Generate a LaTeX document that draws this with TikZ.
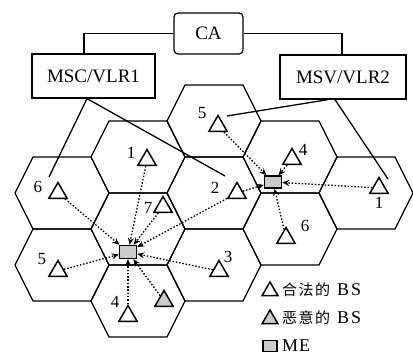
\documentclass[tikz,border=0pt]{standalone}
\usepackage{fontspec}
\setmainfont{Liberation Serif}
\newfontfamily\cjk{Noto Sans CJK SC}
\usetikzlibrary{shapes.geometric,arrows.meta}
\begin{document}
\begin{tikzpicture}[x=1pt,y=-1pt,
  hexline/.style={line width=1.3pt, line join=miter},
  box/.style={draw, line width=1.2pt, inner sep=0pt, font=\fontsize{19}{19}\selectfont},
  bs/.style={draw, fill=white, regular polygon, regular polygon sides=3, minimum size=21pt, inner sep=0pt, line width=1.5pt},
  bad/.style={bs, fill=gray!40},
  me/.style={draw, line width=1.5pt, fill=gray!40, minimum width=17pt, minimum height=13pt, inner sep=0pt},
  num/.style={font=\fontsize{17}{17}\selectfont, inner sep=0pt},
  link/.style={line width=1.3pt},
  sig/.style={line width=1.3pt, dash pattern=on 1.5pt off 1.8pt, -{Stealth[length=7pt,width=6pt]}},
  legtext/.style={anchor=base west, inner sep=0pt, font=\fontsize{18}{18}\selectfont},
  hexagon/.pic={\draw[hexline] (-47,0) -- (-29,-36) -- (29,-36) -- (47,0) -- (29,36) -- (-29,36) -- cycle;}
]
\useasboundingbox (0,0) rectangle (413,354);

% hexagonal cells
\pic at (214,121) {hexagon};
\pic at (138,157) {hexagon};
\pic at (290,157) {hexagon};
\pic at (62,193) {hexagon};
\pic at (214,193) {hexagon};
\pic at (366,193) {hexagon};
\pic at (138,229) {hexagon};
\pic at (290,229) {hexagon};
\pic at (62,265) {hexagon};
\pic at (214,265) {hexagon};
\pic at (138,301) {hexagon};

% boxes
\node[box, rounded corners=4pt, minimum width=69pt, minimum height=41pt] (ca) at (208.5,33.5) {CA};
\node[box, minimum width=123pt, minimum height=44pt] (msc) at (93.5,76) {MSC/VLR1};
\node[box, minimum width=126pt, minimum height=44pt] (msv) at (343,77) {MSV/VLR2};

\draw[link] (ca.west) -| ([xshift=-9.5pt]msc.north);
\draw[link] (ca.east) -| ([xshift=-1pt]msv.north);

\coordinate (e6) at (49,177);
\coordinate (e2) at (225,176);
\coordinate (e5) at (227,116);
\coordinate (e1) at (388,179);
\draw[link] ([xshift=-6.5pt]msc.south) -- (e6);
\draw[link] ([xshift=-6.5pt]msc.south) -- (e2);
\draw[link] ([xshift=-15pt]msv.south) -- (e5);
\draw[link] ([xshift=-8pt]msv.south) -- (e1);

% mobile equipment
\node[me] (meC) at (128,252) {};
\node[me, minimum height=12pt] (meR) at (273,182) {};

% base stations
\node[bs] (t6L) at (58,193) {};
\node[bs] (t1) at (147,160) {};
\node[bs] (t7) at (163,207) {};
\node[bs] (t2) at (237,193) {};
\node[bs] (t5L) at (58,271) {};
\node[bs] (t3) at (219,271) {};
\node[bs] (t4B) at (128,316) {};
\node[bad] (tM) at (164,301) {};
\node[bs] (t5T) at (218,126) {};
\node[bs] (t4R) at (292,159) {};
\node[bs] (t1R) at (379,188) {};
\node[bs] (t6R) at (286,238) {};

% labels
\node[num] (l6L) at (38,187) {6};
\node[num] (l1) at (131,153) {1};
\node[num] (l7) at (148,208) {7};
\node[num] (l2) at (215,188) {2};
\node[num] (l5L) at (42,259) {5};
\node[num] (l3) at (228,257) {3};
\node[num] (l4B) at (115,302) {4};
\node[num] (l5T) at (202,113) {5};
\node[num] (l4R) at (303,150) {4};
\node[num] (l1R) at (379,203) {1};
\node[num] (l6R) at (305,226) {6};

% signals to central ME
\draw[sig] (t6L) -- (meC);
\draw[sig] (t1) -- (meC);
\draw[sig] (t7) -- (meC);
\draw[sig] (t2) -- (meC);
\draw[sig] (t5L) -- (meC);
\draw[sig] (t3) -- (meC);
\draw[sig] (t4B) -- (meC);
\draw[sig] (tM) -- (meC);
% signals to right ME
\draw[sig] (t5T) -- (meR);
\draw[sig] (t4R) -- (meR);
\draw[sig] (t2) -- (meR);
\draw[sig] (t1R) -- (meR);
\draw[sig] (t6R) -- (meR);

% legend
\node[bs, minimum size=18pt] (lg1) at (270,291) {};
\node[legtext] (lt1) at (282,295) {{\cjk\fontsize{15}{15}\selectfont 合\hspace{1.5pt}法\hspace{1.5pt}的}\hspace{7pt}B\hspace{2pt}S};
\node[bad, minimum size=18pt] (lg2) at (270,319) {};
\node[legtext] (lt2) at (282,323) {{\cjk\fontsize{15}{15}\selectfont 恶\hspace{1.5pt}意\hspace{1.5pt}的}\hspace{7pt}B\hspace{2pt}S};
\node[me, minimum width=14pt, minimum height=11pt] (lg3) at (270,346) {};
\node[legtext] (lt3) at (282,351.5) {M\hspace{1pt}E};
\end{tikzpicture}
\end{document}
